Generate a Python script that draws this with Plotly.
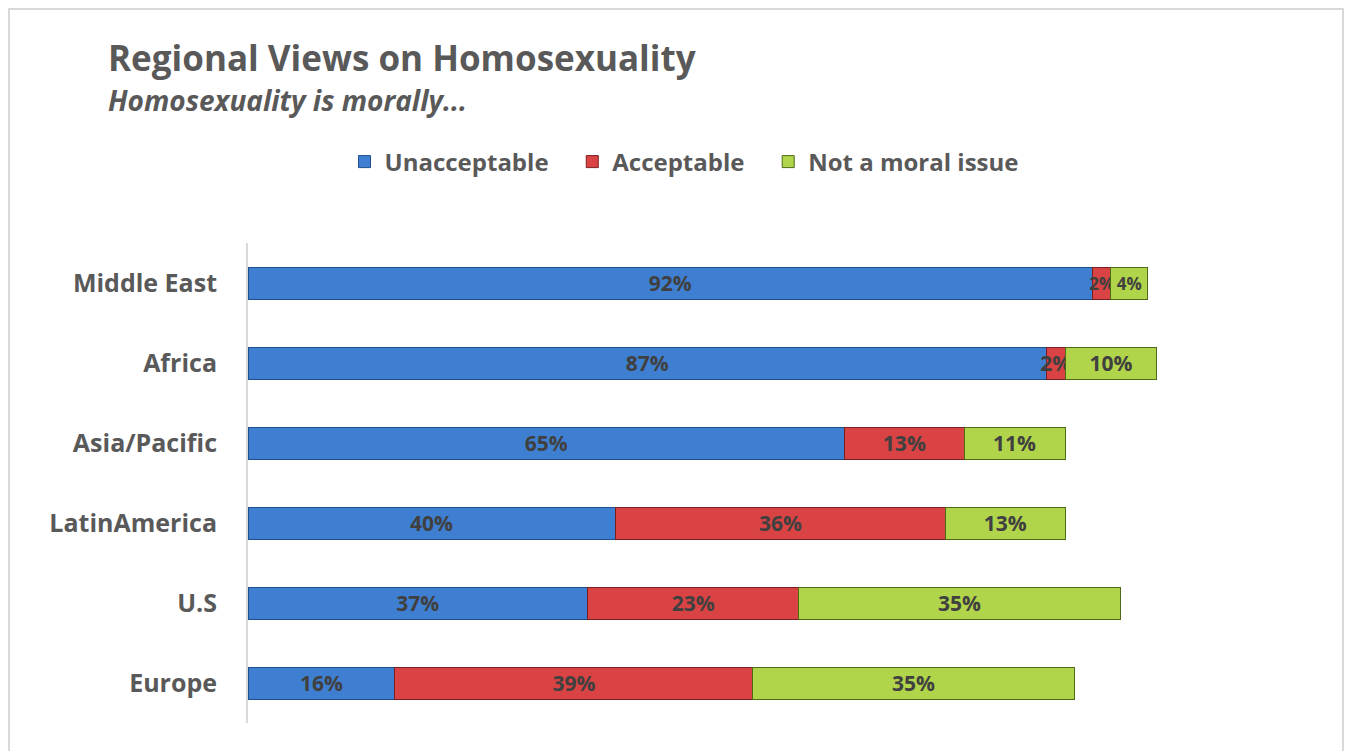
import plotly.graph_objects as go

regions = ["Middle East", "Africa", "Asia/Pacific", "LatinAmerica", "U.S", "Europe"]
unacceptable = [92, 87, 65, 40, 37, 16]
acceptable = [2, 2, 13, 36, 23, 39]
not_moral = [4, 10, 11, 13, 35, 35]

NB = "\u00a0" * 3  # extra gap between legend entries
LABEL_SIZE = 21
# slightly smaller labels in the crowded Middle East segments
crowded_sizes = [17] + [LABEL_SIZE] * (len(regions) - 1)
series = [
    ("Unacceptable" + NB, unacceptable, "#3F7FD1", "#1F4E8C", LABEL_SIZE),
    ("Acceptable" + NB, acceptable, "#D94343", "#7A1F1F", crowded_sizes),
    ("Not a moral issue", not_moral, "#B0D44A", "#4F6A14", crowded_sizes),
]

OFF = 8  # page body margin
W, H = 1352 - 2 * OFF, 751 - OFF
L, R, T, B = 248 - OFF, 1166 - OFF, 243 - OFF, 723 - OFF  # plot area in figure pixels
FONT = "Open Sans"

def px_x(px):
    return (px - OFF - L) / (R - L)

def px_y(py):
    return (B - (py - OFF)) / (B - T)

fig = go.Figure()
for name, vals, col, edge, tsize in series:
    fig.add_trace(go.Bar(
        name=name,
        y=regions,
        x=vals,
        orientation="h",
        marker=dict(color=col, line=dict(color=edge, width=1)),
        text=[f"{v}%" for v in vals],
        textposition="inside",
        insidetextanchor="middle",
        textangle=0,
        constraintext="none",
        textfont=dict(family=FONT, size=tsize, color="#404040", weight="bold"),
        width=0.4,
        cliponaxis=False,
    ))

fig.update_layout(
    width=W, height=H,
    barmode="stack",
    plot_bgcolor="white",
    paper_bgcolor="white",
    margin=dict(l=L, r=W - R, t=T, b=H - B, pad=0),
    font=dict(family=FONT, color="#595959"),
    showlegend=True,
    legend=dict(
        orientation="h",
        x=px_x(684), xanchor="center",
        y=px_y(162), yanchor="middle",
        font=dict(family=FONT, size=24, color="#595959", weight="bold"),
        itemwidth=30,
        traceorder="normal",
    ),
    xaxis=dict(range=[0, 100], visible=False, fixedrange=True),
    yaxis=dict(
        categoryorder="array",
        categoryarray=regions,
        autorange="reversed",
        showline=True,
        linecolor="#D9D9D9",
        linewidth=2,
        showgrid=False,
        ticks="outside",
        ticklen=24,
        tickcolor="rgba(0,0,0,0)",
        tickfont=dict(family=FONT, size=25, color="#595959", weight="bold"),
    ),
    annotations=[
        dict(text="Regional Views on Homosexuality", xref="paper", yref="paper",
             x=px_x(106), y=px_y(57), xanchor="left", yanchor="middle", showarrow=False,
             font=dict(family=FONT, size=35, color="#595959", weight="bold")),
        dict(text="<i>Homosexuality is morally...</i>", xref="paper", yref="paper",
             x=px_x(106), y=px_y(100), xanchor="left", yanchor="middle", showarrow=False,
             font=dict(family=FONT, size=28, color="#595959", weight="bold")),
    ],
    shapes=[
        dict(type="rect", xref="paper", yref="paper",
             x0=px_x(9), x1=px_x(1343), y0=px_y(790), y1=px_y(9),
             line=dict(color="#D9D9D9", width=2), fillcolor="rgba(0,0,0,0)", layer="below"),
    ],
)
fig.write_html("out.html")
